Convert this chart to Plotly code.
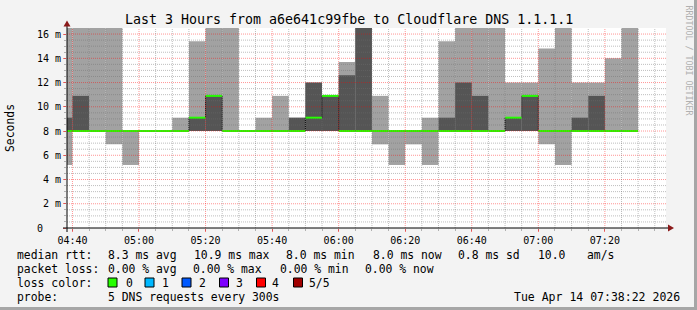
import plotly.graph_objects as go

# ---------------- data ----------------
BIN_START = ["04:35", "04:40", "04:45", "04:50", "04:55", "05:00", "05:05", "05:10",
             "05:15", "05:20", "05:25", "05:30", "05:35", "05:40", "05:45", "05:50",
             "05:55", "06:00", "06:05", "06:10", "06:15", "06:20", "06:25", "06:30",
             "06:35", "06:40", "06:45", "06:50", "06:55", "07:00", "07:05", "07:10",
             "07:15", "07:20", "07:25"]
# five sorted pings per 5-minute step, in ms (values above 16.5 are clipped in the picture)
PING_MIN  = [5.2, 8.0, 8.0, 6.9, 5.2, 8.0, 8.0, 8.0, 8.0, 8.0, 8.0, 8.0, 8.0, 8.0, 8.0, 8.0,
             8.0, 8.0, 8.0, 6.9, 5.2, 6.9, 5.2, 8.0, 8.0, 8.0, 8.0, 8.0, 8.0, 6.9, 5.2, 8.0,
             8.0, 8.0, 8.0]
PING_LOW  = [8.0] * 35
MEDIAN    = [8.0, 8.0, 8.0, 8.0, 8.0, 8.0, 8.0, 8.0, 9.1, 10.9, 8.0, 8.0, 8.0, 8.0, 8.0, 9.1,
             10.9, 8.0, 8.0, 8.0, 8.0, 8.0, 8.0, 8.0, 8.0, 8.0, 8.0, 9.1, 10.9, 8.0, 8.0, 8.0,
             8.0, 8.0, 8.0]
PING_HIGH = [9.1, 10.9, 8.0, 8.0, 8.0, 8.0, 8.0, 8.0, 9.1, 10.9, 8.0, 8.0, 8.0, 8.0, 9.1, 12.0,
             10.9, 12.6, 16.5, 8.0, 8.0, 8.0, 8.0, 9.1, 12.0, 10.9, 8.0, 9.1, 10.9, 8.0, 8.0, 9.1,
             10.9, 8.0, 8.0]
PING_MAX  = [16.5, 16.5, 16.5, 16.5, 8.0, 8.0, 8.0, 9.1, 15.4, 16.5, 16.5, 8.0, 9.1, 10.9, 9.1, 12.0,
             10.9, 13.7, 16.5, 10.9, 8.0, 8.0, 9.1, 15.4, 16.5, 16.5, 16.5, 12.0, 12.0, 14.8, 16.5, 12.0,
             12.0, 14.0, 16.5]

STEP_MIN = 5
VIEW_START = "04:38:22"
VIEW_END = "07:38:22"
X_TICKS = ["04:40", "05:00", "05:20", "05:40", "06:00", "06:20", "06:40", "07:00", "07:20"]
Y_TICKS = [0, 2, 4, 6, 8, 10, 12, 14, 16]
Y_MAX = 16.5

TITLE = "Last 3 Hours from a6e641c99fbe to Cloudflare DNS 1.1.1.1"
RTT_STATS = ["8.3 ms avg", "10.9 ms max", "8.0 ms min", "8.0 ms now", "0.8 ms sd", "10.0", "am/s"]
LOSS_STATS = ["0.00 % avg", "0.00 % max", "0.00 % min", "0.00 % now"]
LOSS_LABELS = ["0", "1", "2", "3", "4", "5/5"]
PROBE_TEXT = "5 DNS requests every 300s"
STAMP = "Tue Apr 14 07:38:22 2026"

# ---------------- styles ----------------
LOSS_COLORS = ["#26ff00", "#00b8ff", "#0059ff", "#7e00ff", "#ff0000", "#a10000"]
LIGHT = "#a2a2a2"
DARK = "#555555"
FONT = "DejaVu Sans Mono"
BG = "#f3f3f3"

W, H = 697, 310
L, R, T, B = 67, 666, 28, 228


def tmin(s):
    p = [int(v) for v in s.split(":")]
    return p[0] * 60 + p[1] + (p[2] / 60 if len(p) > 2 else 0)


def fx(px):
    return (px - L) / (R - L)


def fy(py):
    return (B - py) / (B - T)


starts = [tmin(s) for s in BIN_START]
centers = [s + STEP_MIN / 2 for s in starts]

fig = go.Figure()

# outer smoke: min .. max
fig.add_trace(go.Bar(x=centers, base=PING_MIN, y=[b - a for a, b in zip(PING_MIN, PING_MAX)],
                     width=STEP_MIN, marker=dict(color=LIGHT, line=dict(width=0)),
                     hoverinfo="skip", showlegend=False))
# inner smoke: 2nd .. 4th ping
fig.add_trace(go.Bar(x=centers, base=PING_LOW, y=[b - a for a, b in zip(PING_LOW, PING_HIGH)],
                     width=STEP_MIN, marker=dict(color=DARK, line=dict(width=0)),
                     hoverinfo="skip", showlegend=False))

# thin dark step outline of the median (visible at the step changes)
edges = starts + [starts[-1] + STEP_MIN]
fig.add_trace(go.Scatter(x=edges, y=MEDIAN + [MEDIAN[-1]], mode="lines",
                         line=dict(shape="hv", color="#000000", width=1, dash="1px,1px"),
                         hoverinfo="skip", showlegend=False))
# median in loss colour (0 loss -> green)
mx, my = [], []
for s, m in zip(starts, MEDIAN):
    mx += [s, s + STEP_MIN, None]
    my += [m, m, None]
fig.add_trace(go.Scatter(x=mx, y=my, mode="lines", line=dict(color=LOSS_COLORS[0], width=2),
                         hoverinfo="skip", showlegend=False))

x0, x1 = tmin(VIEW_START), tmin(VIEW_END)
shapes = []
# grid on top of data
y = 0.5
while y < Y_MAX:
    major = abs(y / 2 - round(y / 2)) < 1e-9
    shapes.append(dict(type="line", xref="paper", yref="y", x0=0, x1=1, y0=y, y1=y, layer="above",
                       line=dict(color="rgba(255,0,0,0.42)" if major else "rgba(110,110,110,0.45)",
                                 width=1, dash="1px,1px")))
    y += 0.5
t = 280
while t < x1:
    major = (t - 280) % 20 == 0
    shapes.append(dict(type="line", xref="x", yref="paper", x0=t, x1=t, y0=0, y1=1, layer="above",
                       line=dict(color="rgba(255,0,0,0.42)" if major else "rgba(110,110,110,0.45)",
                                 width=1, dash="1px,1px")))
    t += 5

# axes lines and arrows
ARROW = "#8b1a1a"
shapes.append(dict(type="line", xref="paper", yref="paper", x0=fx(63), x1=fx(669), y0=fy(228), y1=fy(228),
                   layer="above", line=dict(color="#000000", width=1)))
shapes.append(dict(type="line", xref="paper", yref="paper", x0=fx(67), x1=fx(67), y0=fy(232), y1=fy(24),
                   layer="above", line=dict(color="#000000", width=1)))
shapes.append(dict(type="path", xref="paper", yref="paper", layer="above",
                   path=f"M {fx(668)} {fy(224.5)} L {fx(674)} {fy(228)} L {fx(668)} {fy(231.5)} Z",
                   fillcolor=ARROW, line=dict(width=0)))
shapes.append(dict(type="path", xref="paper", yref="paper", layer="above",
                   path=f"M {fx(63.5)} {fy(26.5)} L {fx(67)} {fy(20.5)} L {fx(70.5)} {fy(26.5)} Z",
                   fillcolor=ARROW, line=dict(width=0)))

# 3D frame of the canvas
shapes.append(dict(type="rect", xref="paper", yref="paper", x0=fx(694), x1=fx(697), y0=fy(310), y1=fy(0),
                   fillcolor="#a6a6a6", line=dict(width=0), layer="above"))
shapes.append(dict(type="rect", xref="paper", yref="paper", x0=fx(0), x1=fx(697), y0=fy(310), y1=fy(307),
                   fillcolor="#a6a6a6", line=dict(width=0), layer="above"))

# loss colour boxes
box_x = [108, 145, 182, 219.5, 256.5, 293.5]
for bx, c in zip(box_x, LOSS_COLORS):
    shapes.append(dict(type="rect", xref="paper", yref="paper", x0=fx(bx), x1=fx(bx + 9),
                       y0=fy(287), y1=fy(278), fillcolor=c, line=dict(color="#000000", width=1),
                       layer="above"))

ann = []


def text(px, py, s, size=11.4, anchor="left", color="#000000", angle=0):
    ann.append(dict(xref="paper", yref="paper", x=fx(px), y=fy(py), text=s, showarrow=False,
                    xanchor=anchor, yanchor="middle", textangle=angle,
                    font=dict(family=FONT, size=size, color=color), borderpad=0))


text(348.5, 19, TITLE, size=13.3, anchor="center")
text(10, 128, "Seconds", size=11.4, anchor="center", angle=-90)
text(688.5, 60, "RRDTOOL / TOBI OETIKER", size=8.3, anchor="center", color="#b0b0b0", angle=90)

text(15.5, 255, "median rtt:")
for px, s in zip([107, 192.5, 285, 371.5, 457.5, 536.5, 586], RTT_STATS):
    text(px, 255, s)
text(15.5, 269, "packet loss:")
for px, s in zip([107, 192, 278.5, 364], LOSS_STATS):
    text(px, 269, s)
text(15.5, 283, "loss color:")
for px, s in zip([125, 160.5, 197.5, 234.5, 271, 307.5], LOSS_LABELS):
    text(px, 283, s)
text(15.5, 297, "probe:")
text(107, 297, PROBE_TEXT)
text(681, 297, STAMP, size=11.5, anchor="right")

minor_y = [v * 0.5 for v in range(1, 33)]
minor_x = [280 + 5 * k for k in range(0, 36)]

fig.update_layout(
    width=W, height=H, margin=dict(l=L, r=W - R, t=T, b=H - B),
    paper_bgcolor=BG, plot_bgcolor="#ffffff", barmode="overlay",
    showlegend=False, shapes=shapes, annotations=ann,
    font=dict(family=FONT, color="#000000"),
)
fig.update_xaxes(range=[x0, x1], showgrid=False, zeroline=False, showline=False,
                 tickmode="array", tickvals=[tmin(s) for s in X_TICKS], ticktext=X_TICKS,
                 ticks="outside", ticklen=3, tickcolor="rgba(255,0,0,0.5)",
                 tickfont=dict(family=FONT, size=10, color="#000000"),
                 minor=dict(tickmode="array", tickvals=minor_x, ticks="outside", ticklen=2,
                            tickcolor="rgba(110,110,110,0.5)", showgrid=False))
fig.update_yaxes(range=[0, Y_MAX], showgrid=False, zeroline=False, showline=False,
                 tickmode="array", tickvals=Y_TICKS,
                 ticktext=["0\u00a0\u00a0\u00a0"] + [f"{v} m" for v in Y_TICKS[1:]],
                 ticks="outside", ticklen=3, tickcolor="rgba(255,0,0,0.5)",
                 tickfont=dict(family=FONT, size=10, color="#000000"),
                 minor=dict(tickmode="array", tickvals=minor_y, ticks="outside", ticklen=2,
                            tickcolor="rgba(110,110,110,0.5)", showgrid=False))

fig.write_html("out.html")
